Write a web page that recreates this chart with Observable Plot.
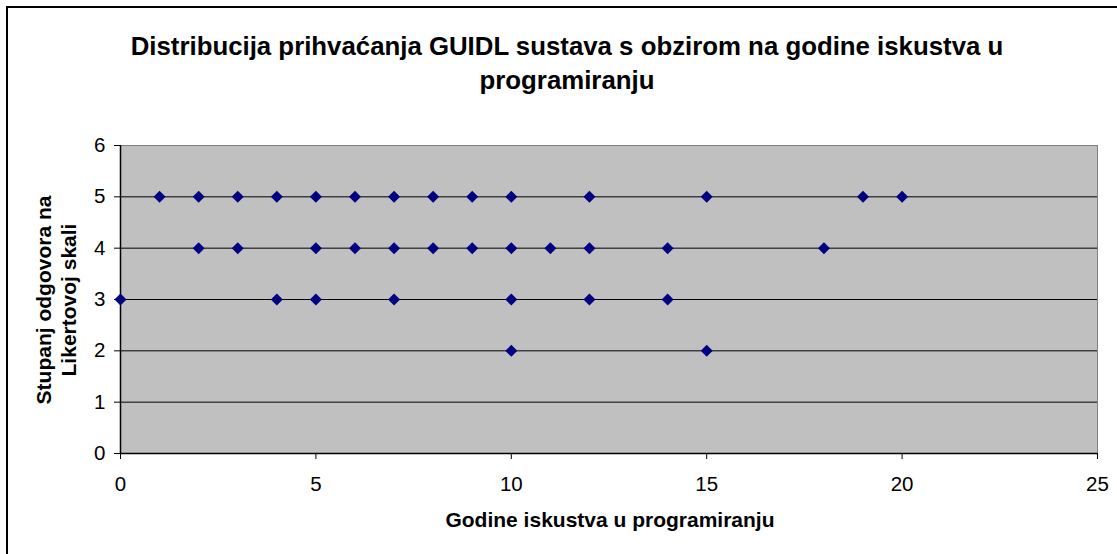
<!DOCTYPE html>
<html><head><meta charset="utf-8">
<script src="https://cdn.jsdelivr.net/npm/d3@7"></script>
<script src="https://cdn.jsdelivr.net/npm/@observablehq/plot@0.6"></script>
<style>
body{margin:0;background:#fff;font-family:"Liberation Sans",Arial,sans-serif;overflow:hidden;}
#wrap{position:relative;width:1117px;height:554px;overflow:hidden;}
#border{position:absolute;left:6px;top:6px;width:1130px;height:570px;border:2px solid #000;box-sizing:border-box;pointer-events:none;}
.t{position:absolute;font-weight:bold;color:#000;white-space:nowrap;}
#title{left:0;width:1134px;top:29px;text-align:center;font-size:25.8px;line-height:34px;}
#xlab{left:0;width:1220px;top:508px;text-align:center;font-size:21px;}
#ylab{left:56px;top:300px;font-size:21px;line-height:25px;text-align:center;transform:translate(-50%,-50%) rotate(-90deg);}
#chart{position:absolute;left:0;top:0;}
#chart svg g[aria-label*="tick label"]{font-size:20.5px !important;}
</style></head>
<body><div id="wrap"><div id="chart"></div>
<div id="border"></div>
<div class="t" id="title">Distribucija prihvaćanja GUIDL sustava s obzirom na godine iskustva u<br>programiranju</div>
<div class="t" id="xlab">Godine iskustva u programiranju</div>
<div class="t" id="ylab">Stupanj odgovora na<br>Likertovoj skali</div>
</div>
<script>
const years = [1,2,3,4,5,6,7,8,9,10,12,15,19,20, 2,3,5,6,7,8,9,10,11,12,14,18, 0,4,5,7,10,12,14, 10,15];
const scores = [5,5,5,5,5,5,5,5,5,5,5,5,5,5, 4,4,4,4,4,4,4,4,4,4,4,4, 3,3,3,3,3,3,3, 2,2];
const xTicks = [0,5,10,15,20,25];
const yTicks = [0,1,2,3,4,5,6];
const gridLines = [1,2,3,4,5];
const data = years.map((x,i)=>({x, y: scores[i]}));

const chart = Plot.plot({
  width:1117, height:554,
  marginLeft:120, marginRight:20, marginTop:145, marginBottom:101,
  style:{fontFamily:"Liberation Sans, Arial, sans-serif", fontSize:"20px", color:"#000", background:"transparent"},
  x:{domain:[0,25], label:null},
  y:{domain:[0,6], label:null},
  marks:[
    Plot.frame({fill:"#c0c0c0", stroke:"#808080"}),
    Plot.ruleY(gridLines, {stroke:"#000", strokeWidth:1}),
    Plot.ruleY([0], {stroke:"#000", strokeWidth:1.5}),
    Plot.ruleX([0], {stroke:"#000", strokeWidth:1.5}),
    Plot.axisX({ticks:xTicks, tickFormat:"d", tickSize:6, tickPadding:17, fontSize:20, stroke:"#000", strokeOpacity:1}),
    Plot.axisY({ticks:yTicks, tickFormat:"d", tickSize:6, tickPadding:9, fontSize:20, stroke:"#000", strokeOpacity:1}),
    Plot.dot(data, {x:"x", y:"y", symbol:"diamond2", r:5.4, fill:"#000080", stroke:"none"})
  ]
});
document.getElementById("chart").appendChild(chart);
</script>
</body></html>
